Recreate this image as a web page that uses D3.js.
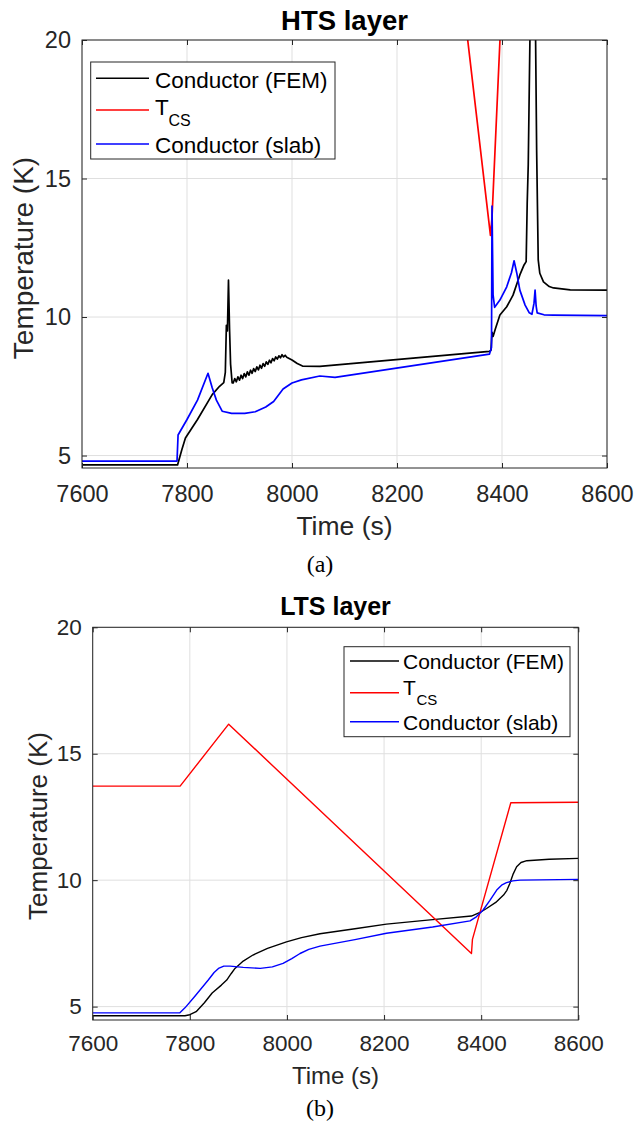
<!DOCTYPE html>
<html>
<head>
<meta charset="utf-8">
<script src="https://cdn.jsdelivr.net/npm/d3@7/dist/d3.min.js"></script>
<style>
  body { margin: 0; background: #fff; }
  svg { display: block; }
</style>
</head>
<body>
<div id="root"></div>
<script>
// tick values shared by both panels
const timeTicks = [7600, 7800, 8000, 8200, 8400, 8600];
const tempTicks = [5, 10, 15, 20];
const seriesNames = ["Conductor (FEM)", "T", "Conductor (slab)"];
const seriesColors = ["#000000", "#ff0000", "#0000ff"];

// (a) HTS layer, [time s, temperature K]
const htsFem = [[7600,4.66],[7782,4.66],[7790,5.2],[7797,5.63],[7820,6.3],[7848,7.2],[7862,7.5],[7870,7.63],
  [7873,8.0],[7875,9.7],[7877,9.5],[7879,11.33],[7881,9.6],[7883,8.3],[7886,7.62],
  [7888,7.62],[7891,7.78],[7894,7.66],[7897,7.84],[7900,7.72],[7903,7.90],[7906,7.78],[7909,7.96],
  [7912,7.84],[7915,8.02],[7918,7.90],[7921,8.08],[7924,7.97],[7927,8.14],[7930,8.03],[7933,8.20],
  [7936,8.09],[7939,8.26],[7942,8.15],[7945,8.32],[7948,8.22],[7951,8.38],[7954,8.29],[7957,8.44],
  [7960,8.35],[7963,8.50],[7966,8.42],[7969,8.56],[7972,8.48],[7975,8.60],[7978,8.53],[7981,8.64],
  [7984,8.56],[7987,8.62],[7990,8.55],[8000,8.45],[8010,8.32],[8020,8.23],[8053,8.22],[8376,8.76],
  [8379,8.8],[8381,9.45],[8383,9.3],[8387,9.55],[8396,10.07],[8409,10.37],[8421,10.79],[8434,11.52],
  [8442,11.88],[8446,12.0],[8448,14.1],[8450,15.5],[8456,24],[8462,24],[8466,16],[8469,12.06],
  [8472,11.58],[8479,11.27],[8490,11.1],[8498,11.05],[8530,10.98],[8600,10.97]];
const htsTcs = [[7600,80],[7780,80],[7880,94],[8378,12.95],[8381,13.6],[8460,47],[8600,47]];
const htsSlab = [[7600,4.8],[7781,4.8],[7783,5.74],[7800,6.3],[7820,7.0],[7840,7.97],[7848,7.45],[7856,7.0],
  [7867,6.6],[7885,6.52],[7910,6.52],[7930,6.58],[7950,6.75],[7965,6.95],[7983,7.4],[8000,7.62],
  [8018,7.73],[8053,7.87],[8082,7.82],[8376,8.66],[8380,8.9],[8381,14.0],[8383,10.8],[8386,10.35],
  [8396,10.61],[8409,11.09],[8418,11.6],[8423,12.03],[8428,11.6],[8434,10.97],[8444,10.43],[8452,10.15],
  [8457,10.1],[8461,10.5],[8463,10.97],[8465,10.4],[8467,10.15],[8480,10.08],[8498,10.07],[8600,10.05]];

// (b) LTS layer
const ltsFem = [[7600,4.64],[7790,4.64],[7800,4.68],[7813,4.8],[7830,5.15],[7846,5.54],[7865,5.85],[7876,6.05],
  [7885,6.3],[7893,6.51],[7910,6.8],[7930,7.04],[7960,7.3],[7999,7.56],[8030,7.73],[8068,7.88],
  [8140,8.08],[8205,8.26],[8300,8.44],[8380,8.58],[8400,8.75],[8411,8.88],[8430,9.12],[8446,9.41],
  [8453,9.6],[8459,9.87],[8466,10.25],[8473,10.53],[8482,10.7],[8494,10.77],[8540,10.83],[8600,10.86]];
const ltsTcs = [[7600,13.72],[7780,13.72],[7880,16.17],[8380,7.1],[8382,7.66],[8461,13.06],[8600,13.08]];
const ltsSlab = [[7600,4.75],[7779,4.75],[7790,4.95],[7810,5.4],[7838,6.05],[7850,6.35],[7859,6.51],[7870,6.6],
  [7883,6.6],[7910,6.55],[7945,6.51],[7970,6.57],[7992,6.71],[8010,6.9],[8027,7.1],[8045,7.26],
  [8068,7.39],[8140,7.65],[8205,7.9],[8300,8.15],[8377,8.39],[8390,8.55],[8404,8.82],[8418,9.2],
  [8432,9.61],[8442,9.8],[8452,9.9],[8465,9.97],[8480,10.0],[8600,10.03]];

const axisColor = "#262626";
const svg = d3.select("#root").append("svg").attr("width", 639).attr("height", 1121);

function drawPanel(cfg) {
  const x = d3.scaleLinear().domain([7600, 8600]).range([cfg.left, cfg.right]);
  const y = d3.scaleLinear().domain([cfg.yMin, 20]).range([cfg.bottom, cfg.top]);
  const g = svg.append("g");

  // grid
  g.selectAll(".gx").data(timeTicks).enter().append("line")
    .attr("x1", d => x(d)).attr("x2", d => x(d)).attr("y1", cfg.top).attr("y2", cfg.bottom)
    .attr("stroke", "#dfdfdf").attr("stroke-width", 1);
  g.selectAll(".gy").data(tempTicks).enter().append("line")
    .attr("x1", cfg.left).attr("x2", cfg.right).attr("y1", d => y(d)).attr("y2", d => y(d))
    .attr("stroke", "#dfdfdf").attr("stroke-width", 1);

  // data lines
  const clipId = "clip" + cfg.id;
  svg.append("clipPath").attr("id", clipId).append("rect")
    .attr("x", cfg.left).attr("y", cfg.top).attr("width", cfg.right - cfg.left).attr("height", cfg.bottom - cfg.top);
  const line = d3.line().x(d => x(d[0])).y(d => y(d[1]));
  const lines = g.append("g").attr("clip-path", `url(#${clipId})`);
  [cfg.fem, cfg.tcs, cfg.slab].forEach((s, i) => {
    lines.append("path").datum(s).attr("d", line)
      .attr("fill", "none").attr("stroke", seriesColors[i])
      .attr("stroke-width", cfg.lw).attr("stroke-linejoin", "round");
  });

  // axes: inward ticks on all four sides
  const styleAxis = sel => {
    sel.select(".domain").remove();
    sel.selectAll(".tick line").attr("stroke", axisColor);
    sel.selectAll(".tick text").attr("fill", axisColor)
      .style("font-family", "'Liberation Sans', Arial, sans-serif");
  };
  g.append("g").attr("transform", `translate(0,${cfg.bottom})`)
    .call(d3.axisBottom(x).tickValues(timeTicks).tickSize(-5).tickPadding(cfg.xPad).tickFormat(d3.format("d")))
    .call(styleAxis).selectAll("text").style("font-size", cfg.tickFont + "px");
  g.append("g").attr("transform", `translate(0,${cfg.top})`)
    .call(d3.axisTop(x).tickValues(timeTicks).tickSize(-5).tickFormat(""))
    .call(styleAxis);
  g.append("g").attr("transform", `translate(${cfg.left},0)`)
    .call(d3.axisLeft(y).tickValues(tempTicks).tickSize(-5).tickPadding(11))
    .call(styleAxis).selectAll("text").style("font-size", cfg.tickFont + "px");
  g.append("g").attr("transform", `translate(${cfg.right},0)`)
    .call(d3.axisRight(y).tickValues(tempTicks).tickSize(-5).tickFormat(""))
    .call(styleAxis);
  g.selectAll(".tick text").attr("font-size", null);

  g.append("rect").attr("x", cfg.left).attr("y", cfg.top)
    .attr("width", cfg.right - cfg.left).attr("height", cfg.bottom - cfg.top)
    .attr("fill", "none").attr("stroke", axisColor).attr("stroke-width", 1);

  // titles and labels
  const font = "'Liberation Sans', Arial, sans-serif";
  g.append("text").attr("x", (cfg.left + cfg.right) / 2).attr("y", cfg.titleY)
    .attr("text-anchor", "middle").style("font-family", font).style("font-weight", "bold")
    .style("font-size", cfg.titleFont + "px").attr("fill", "#000").text(cfg.title);
  g.append("text").attr("x", (cfg.left + cfg.right) / 2).attr("y", cfg.xLabelY)
    .attr("text-anchor", "middle").style("font-family", font)
    .style("font-size", cfg.labelFont + "px").attr("fill", axisColor).text("Time (s)");
  g.append("text").attr("transform", `translate(${cfg.yLabelX},${cfg.yLabelCy}) rotate(-90)`)
    .attr("text-anchor", "middle").style("font-family", font)
    .style("font-size", cfg.yLabelFont + "px").attr("fill", axisColor).text("Temperature (K)");
  g.append("text").attr("x", 320).attr("y", cfg.captionY)
    .attr("text-anchor", "middle").style("font-family", "'Liberation Serif', 'Times New Roman', serif")
    .style("font-size", "24px").attr("fill", "#000").text(cfg.caption);

  // legend
  const L = cfg.legend;
  g.append("rect").attr("x", L.x0).attr("y", L.y0).attr("width", L.x1 - L.x0).attr("height", L.y1 - L.y0)
    .attr("fill", "#fff").attr("stroke", axisColor).attr("stroke-width", 1);
  seriesNames.forEach((name, i) => {
    g.append("line").attr("x1", L.sx0).attr("x2", L.sx1).attr("y1", L.rows[i]).attr("y2", L.rows[i])
      .attr("stroke", seriesColors[i]).attr("stroke-width", 1.5);
    g.append("text").attr("x", L.tx).attr("y", L.base[i]).style("font-family", font)
      .style("font-size", L.font + "px").attr("fill", "#000").text(name);
  });
  g.append("text").attr("x", L.subX).attr("y", L.subY).style("font-family", font)
    .style("font-size", L.subFont + "px").attr("fill", "#000").text("CS");
}

drawPanel({
  id: "a", left: 82, right: 607, top: 40, bottom: 468, yMin: 4.55, lw: 1.7,
  fem: htsFem, tcs: htsTcs, slab: htsSlab,
  title: "HTS layer", titleY: 30, titleFont: 27.5,
  tickFont: 23.5, xPad: 17, labelFont: 26.5, xLabelY: 535,
  yLabelX: 33, yLabelCy: 258, yLabelFont: 28,
  caption: "(a)", captionY: 572,
  legend: { x0: 90.7, x1: 335, y0: 62, y1: 159, sx0: 96, sx1: 149, tx: 155,
    rows: [78.3, 110, 144], base: [87.5, 115, 152.7], font: 22.5,
    subX: 168.5, subY: 126, subFont: 16 }
});

drawPanel({
  id: "b", left: 92.7, right: 578.3, top: 627.3, bottom: 1020, yMin: 4.47, lw: 1.4,
  fem: ltsFem, tcs: ltsTcs, slab: ltsSlab,
  title: "LTS layer", titleY: 615, titleFont: 25,
  tickFont: 22.5, xPad: 15, labelFont: 24, xLabelY: 1083.5,
  yLabelX: 47, yLabelCy: 826, yLabelFont: 26,
  caption: "(b)", captionY: 1116,
  legend: { x0: 344, x1: 570, y0: 646.7, y1: 736.7, sx0: 350, sx1: 399, tx: 403,
    rows: [661, 692.7, 721.7], base: [669.3, 695, 730], font: 21,
    subX: 416.5, subY: 705, subFont: 15 }
});
</script>
</body>
</html>
